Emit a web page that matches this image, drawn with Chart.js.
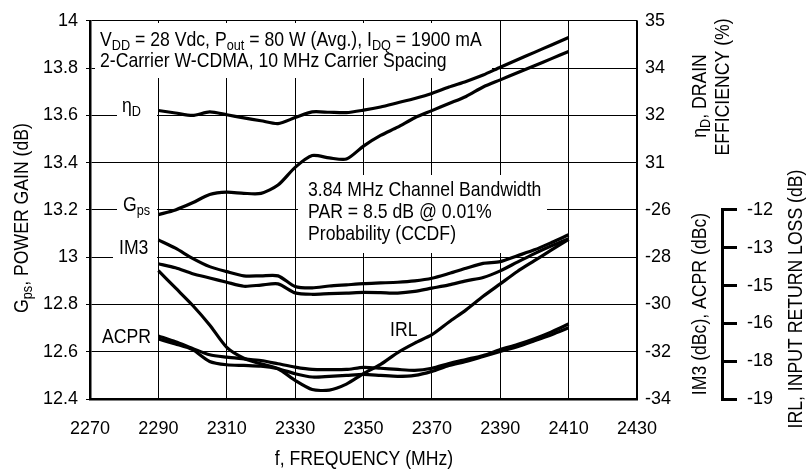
<!DOCTYPE html>
<html>
<head>
<meta charset="utf-8">
<script src="https://cdn.jsdelivr.net/npm/chart.js@4.4.1/dist/chart.umd.min.js"></script>
<style>
  html, body { margin: 0; padding: 0; background: #fff; }
  canvas { display: block; }
</style>
</head>
<body>
<canvas id="myChart" width="807" height="473"></canvas>
<script>
/* data */
const freq = [2290, 2295, 2300, 2305, 2310, 2315, 2320, 2325, 2330, 2335, 2340, 2345, 2350,
              2355, 2360, 2365, 2370, 2375, 2380, 2385, 2390, 2395, 2400, 2405, 2410];

const gps = [13.18, 13.20, 13.23, 13.265, 13.275, 13.27, 13.27, 13.305, 13.38, 13.43, 13.42, 13.415, 13.47,
             13.515, 13.55, 13.59, 13.62, 13.65, 13.68, 13.72, 13.75, 13.78, 13.81, 13.84, 13.87];

const drainEff = [32.47, 32.40, 32.33, 32.43, 32.35, 32.26, 32.18, 32.10, 32.27, 32.43, 32.42, 32.41, 32.48,
                  32.57, 32.69, 32.81, 32.95, 33.13, 33.29, 33.47, 33.69, 33.90, 34.11, 34.32, 34.53];

const im3Upper = [-27.27, -27.62, -28.05, -28.40, -28.61, -28.79, -28.79, -28.79, -29.24, -29.30, -29.22, -29.17, -29.12,
                  -29.09, -29.06, -29.00, -28.89, -28.69, -28.47, -28.26, -28.19, -27.94, -27.69, -27.38, -27.05];

const im3Lower = [-28.28, -28.45, -28.70, -28.88, -29.06, -29.23, -29.18, -29.13, -29.51, -29.57, -29.54, -29.52, -29.49,
                  -29.50, -29.52, -29.45, -29.31, -29.17, -29.00, -28.86, -28.58, -28.21, -27.85, -27.52, -27.22];

const acprUpper = [-31.33, -31.58, -31.86, -32.13, -32.23, -32.30, -32.37, -32.51, -32.65, -32.75, -32.76, -32.75, -32.66,
                   -32.70, -32.75, -32.79, -32.70, -32.50, -32.33, -32.16, -31.91, -31.70, -31.45, -31.16, -30.83];

const acprLower = [-31.46, -31.67, -31.91, -32.41, -32.55, -32.58, -32.61, -32.72, -32.93, -33.07, -33.04, -33.00, -32.96,
                   -33.00, -33.04, -33.00, -32.83, -32.58, -32.41, -32.20, -31.99, -31.79, -31.54, -31.28, -30.99];

const irl = [-14.25, -14.89, -15.53, -16.26, -17.09, -17.49, -17.70, -17.88, -18.31, -18.65, -18.67, -18.45, -18.06,
             -17.72, -17.28, -16.93, -16.62, -16.15, -15.70, -15.20, -14.74, -14.28, -13.88, -13.48, -13.09];

/* scale ranges; the printed right-hand labels are rounded values of these */
const effRange = [24.333, 35];
const distRange = [-34, -18];
const distLabelTop = -26;          // above this the right column shows efficiency
const irlTicks = [-19, -17.6, -16.2, -14.8, -13.4, -12];

const FONT = '"Liberation Sans", Arial, sans-serif';
const K = 0.84;                    // condensed look of the datasheet lettering
Chart.defaults.font.family = FONT;
Chart.defaults.color = '#000';

const toXY = ys => freq.map((f, i) => ({ x: f, y: ys[i] }));
const distToEff = v => effRange[0] + (v - distRange[0]) / (distRange[1] - distRange[0]) * (effRange[1] - effRange[0]);

function curve(label, ys, axis) {
    return {
        label: label,
        data: toXY(ys),
        yAxisID: axis,
        borderColor: '#000',
        borderWidth: 3.2,
        pointRadius: 0,
        tension: 0.25,
        fill: false
    };
}

// draw text with subscript pieces: parts = [[text, isSub], ...]
function richText(ctx, x, y, parts, size, align) {
    const subSize = size * 0.72;
    ctx.save();
    ctx.translate(x, y);
    ctx.scale(K, 1);
    let w = 0;
    parts.forEach(p => {
        ctx.font = (p[1] ? subSize : size) + 'px ' + FONT;
        w += ctx.measureText(p[0]).width;
    });
    let cx = align === 'center' ? -w / 2 : (align === 'right' ? -w : 0);
    ctx.textAlign = 'left';
    ctx.textBaseline = 'middle';
    ctx.fillStyle = '#000';
    parts.forEach(p => {
        ctx.font = (p[1] ? subSize : size) + 'px ' + FONT;
        ctx.fillText(p[0], cx, p[1] ? size * 0.3 : 0);
        cx += ctx.measureText(p[0]).width;
    });
    ctx.restore();
}

function vText(ctx, x, y, parts, size) {
    ctx.save();
    ctx.translate(x, y);
    ctx.rotate(-Math.PI / 2);
    richText(ctx, 0, 0, parts, size, 'center');
    ctx.restore();
}

const notes = {
    id: 'notes',
    beforeDatasetsDraw(chart) {
        const ctx = chart.ctx;
        ctx.save();
        ctx.fillStyle = '#fff';
        ctx.fillRect(95, 23, 397, 55);
        ctx.fillRect(298, 175, 249, 78);
        ctx.fillRect(117, 98, 40, 20);
        ctx.fillRect(117, 197, 40, 20);
        ctx.fillRect(113, 245, 44, 20);

        richText(ctx, 100, 40, [['V'], ['DD', 1], [' = 28 Vdc, P'], ['out', 1], [' = 80 W (Avg.), I'], ['DQ', 1], [' = 1900 mA']], 21, 'left');
        richText(ctx, 100, 61, [['2-Carrier W-CDMA, 10 MHz Carrier Spacing']], 21, 'left');
        richText(ctx, 308, 190, [['3.84 MHz Channel Bandwidth']], 21, 'left');
        richText(ctx, 308, 212, [['PAR = 8.5 dB @ 0.01%']], 21, 'left');
        richText(ctx, 308, 234, [['Probability (CCDF)']], 21, 'left');

        richText(ctx, 122, 106, [['η'], ['D', 1]], 21, 'left');
        richText(ctx, 123, 205, [['G'], ['ps', 1]], 21, 'left');
        richText(ctx, 119, 248, [['IM3']], 21, 'left');
        richText(ctx, 102, 337, [['ACPR']], 21, 'left');
        richText(ctx, 390, 330, [['IRL']], 21, 'left');
        ctx.restore();
    },
    afterDraw(chart) {
        const ctx = chart.ctx;
        ctx.save();
        // IRL axis spine, only over its own range
        const s = chart.scales.yIrl;
        ctx.strokeStyle = '#000';
        ctx.lineWidth = 3;
        ctx.beginPath();
        ctx.moveTo(s.left + 1.5, s.getPixelForValue(irlTicks[0]) + 1.5);
        ctx.lineTo(s.left + 1.5, s.getPixelForValue(irlTicks[irlTicks.length - 1]) - 1.5);
        ctx.stroke();

        vText(ctx, 22, 218, [['G'], ['ps', 1], [', POWER GAIN (dB)']], 21);
        vText(ctx, 700, 96, [['η'], ['D', 1], [', DRAIN']], 21);
        vText(ctx, 723, 87, [['EFFICIENCY (%)']], 21);
        vText(ctx, 700, 304, [['IM3 (dBc), ACPR (dBc)']], 21);
        vText(ctx, 796, 299, [['IRL, INPUT RETURN LOSS (dB)']], 21);
        richText(ctx, 364, 459, [['f, FREQUENCY (MHz)']], 21, 'center');
        ctx.restore();
    }
};

new Chart(document.getElementById('myChart'), {
    type: 'line',
    data: {
        datasets: [
            curve('Gps', gps, 'y'),
            curve('ηD', drainEff, 'yEff'),
            curve('IM3 upper', im3Upper, 'yDist'),
            curve('IM3 lower', im3Lower, 'yDist'),
            curve('ACPR upper', acprUpper, 'yDist'),
            curve('ACPR lower', acprLower, 'yDist'),
            curve('IRL', irl, 'yIrl')
        ]
    },
    options: {
        responsive: false,
        animation: false,
        events: [],
        layout: { padding: { top: 16, right: 0, bottom: 0, left: 0 } },
        plugins: { legend: { display: false }, tooltip: { enabled: false } },
        scales: {
            x: {
                type: 'linear',
                min: 2270,
                max: 2430,
                afterFit: s => { s.height = 74; },
                ticks: { stepSize: 20, padding: 19, maxRotation: 0, font: { size: 18 }, callback: v => String(v) },
                grid: { color: '#000', lineWidth: 1, drawTicks: false },
                border: { color: '#000', width: 2.5 }
            },
            y: {
                position: 'left',
                min: 12.4,
                max: 14,
                afterFit: s => { s.width = 90; },
                ticks: { stepSize: 0.2, padding: 8, font: { size: 18 }, callback: v => String(+v.toFixed(1)) },
                grid: { color: '#000', lineWidth: 1, drawTicks: true, tickLength: 4 },
                border: { color: '#000', width: 2.5 }
            },
            yEff: {
                display: false,
                position: 'right',
                min: effRange[0],
                max: effRange[1]
            },
            yDist: {
                position: 'right',
                weight: 1,
                min: distRange[0],
                max: distRange[1],
                afterFit: s => { s.width = 84; },
                ticks: {
                    stepSize: 2,
                    padding: 8,
                    font: { size: 18 },
                    callback: v => v <= distLabelTop ? String(v) : String(Math.round(distToEff(v)))
                },
                grid: { display: false, drawTicks: false },
                border: { color: '#000', width: 1.5 }
            },
            yIrl: {
                position: 'right',
                weight: 2,
                min: -19,
                max: -5,
                afterFit: s => { s.width = 86; },
                afterBuildTicks: s => { s.ticks = irlTicks.map(v => ({ value: v })); },
                ticks: { padding: 10, font: { size: 18 }, callback: v => String(Math.round(v)) },
                grid: { display: true, drawOnChartArea: false, drawTicks: true, tickLength: 16, color: '#000', lineWidth: 3 },
                border: { display: false }
            }
        }
    },
    plugins: [notes]
});
</script>
</body>
</html>
